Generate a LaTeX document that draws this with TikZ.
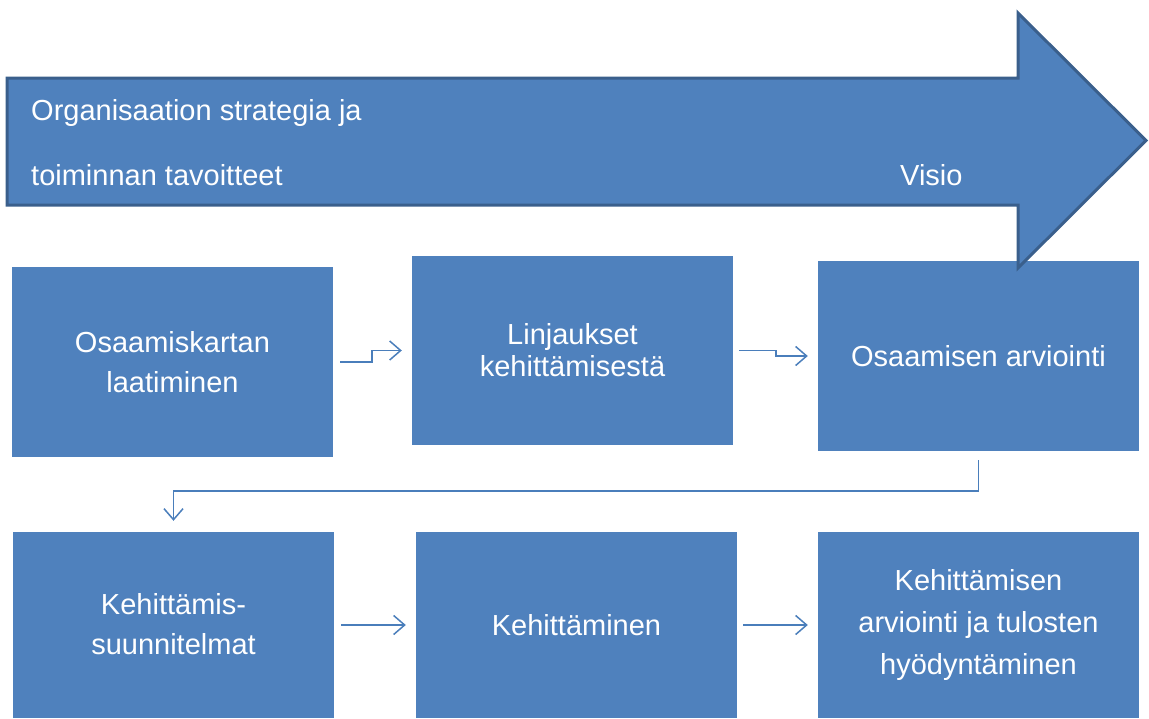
\documentclass[tikz,border=0pt]{standalone}
\usepackage{fontspec}
\setmainfont{Liberation Sans}
\usetikzlibrary{arrows.meta,calc}
\definecolor{boxblue}{HTML}{4F81BD}
\definecolor{edgeblue}{HTML}{3A5F8C}
\definecolor{lineblue}{HTML}{4A7EBB}
\tikzset{
  box/.style={fill=boxblue, draw=none, minimum width=321pt, inner sep=0pt, text=white, align=center, font=\fontsize{29}{40}\selectfont},
  conn/.style={draw=lineblue, line width=1.5pt, -{Straight Barb[length=11pt,width=19pt,line width=1.5pt]}},
  bigarrow/.style={fill=boxblue, draw=edgeblue, line width=3pt, line join=miter},
  arrtext/.style={text=white, inner sep=0pt, font=\fontsize{29}{35}\selectfont}
}
\begin{document}
\begin{tikzpicture}[x=1pt,y=-1pt]
\useasboundingbox (0,0) rectangle (1149,718);
% boxes
\node[box, minimum height=190pt] (b1) at (172.5,362) {Osaamiskartan\\laatiminen};
\node[box, minimum height=189pt, font=\fontsize{29}{32}\selectfont] (b2) at (572.5,350.5) {Linjaukset\\kehittämisestä};
\node[box, minimum height=190pt] (b3) at (978.5,356) {Osaamisen arviointi};
\node[box, minimum height=186pt, text depth=3pt] (b4) at (173.5,625) {Kehittämis-\\suunnitelmat};
\node[box, minimum height=186pt] (b5) at (576.5,625) {Kehittäminen};
\node[box, minimum height=186pt, font=\fontsize{29}{42}\selectfont] (b6) at (978.5,625) {Kehittämisen\\arviointi ja tulosten\\hyödyntäminen};
% big arrow (drawn over the boxes)
\draw[bigarrow] (7,78) -- (1018,78) -- (1018,13) -- (1146,140.5) -- (1018,268) -- (1018,205) -- (7,205) -- cycle;
\node[arrtext, anchor=base west] (t1) at (31,120) {Organisaation strategia ja};
\node[arrtext, anchor=base west] (t2) at (31,185) {toiminnan tavoitteet};
\node[arrtext, anchor=base west] (t3) at (900,185) {Visio};
% connectors
\draw[conn] ([xshift=7pt]b1.east) -- ++(32,0) |- ([xshift=-10pt]b2.west);
\draw[conn] ([xshift=6pt]b2.east) -- ++(37,0) |- ([xshift=-10pt]b3.west);
\draw[conn] ([yshift=-9pt]b3.south) -- ++(0,31) -| ([yshift=11pt]b4.north);
\draw[conn] ([xshift=7pt]b4.east) -- ([xshift=-10pt]b5.west);
\draw[conn] ([xshift=6pt]b5.east) -- ([xshift=-10pt]b6.west);
\end{tikzpicture}
\end{document}
